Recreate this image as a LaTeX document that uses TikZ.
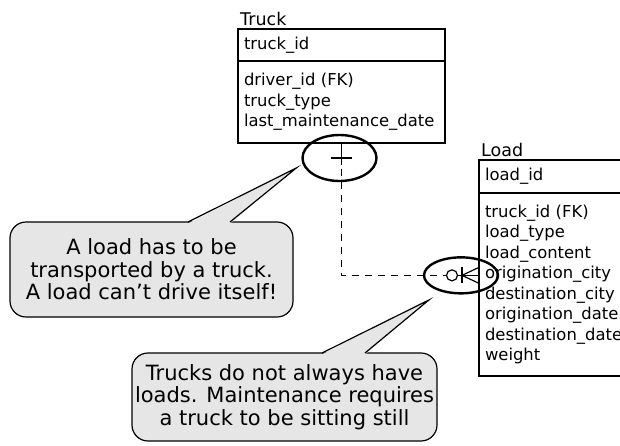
\documentclass[tikz,border=0pt]{standalone}
\usepackage{fontspec}
\setmainfont{DejaVu Sans}
\definecolor{ink}{HTML}{000000}
\definecolor{notefill}{HTML}{E6E6E6}
\usetikzlibrary{calc,positioning,shapes.geometric}
\tikzset{
  tbl/.style={draw=ink,line width=1.2pt,anchor=north west,align=left,
              text width=#1,inner xsep=6pt,inner ysep=0pt,outer sep=0pt,
              font=\fontsize{16.4}{20.5}\selectfont},
  tbltitle/.style={anchor=south west,inner xsep=2pt,inner ysep=3.5pt,
                   font=\fontsize{17.5}{20.5}\selectfont},
  rel/.style={draw=ink,line width=1.2pt,dash pattern=on 7pt off 6pt},
  relend/.style={draw=ink,line width=1.2pt},
  ring/.style={ellipse,draw=ink,line width=2.4pt,inner sep=0pt},
  note/.style={draw=ink,fill=notefill,line width=1.2pt,rounded corners=16pt,
               align=center,inner sep=0pt,outer sep=0pt,
               font=\fontsize{21}{22.5}\selectfont},
  noteline/.style={draw=ink,line width=1.2pt,line join=miter}
}
\begin{document}
\begin{tikzpicture}[x=1pt,y=-1pt]
  \useasboundingbox (0,0) rectangle (620,445);
  \node[tbl=195,minimum height=32pt] (truckkey) at (238,29) {truck\_id};
  \node[tbl=195,minimum height=82pt] (truckattr) at (truckkey.south west)
    {driver\_id (FK)\\truck\_type\\last\_maintenance\_date};
  \node[tbltitle] (trucktitle) at (truckkey.north west) {Truck};

  \node[tbl=150,minimum height=33pt] (loadkey) at (479,160) {load\_id};
  \node[tbl=150,minimum height=183pt] (loadattr) at (loadkey.south west)
    {truck\_id (FK)\\load\_type\\load\_content\\origination\_city\\destination\_city\\origination\_date\\destination\_date\\weight};
  \node[tbltitle] (loadtitle) at (loadkey.north west) {Load};

  \coordinate (ljoin) at ($(loadattr.north west)!0.45!(loadattr.south west)$);
  \draw[rel] (truckattr.south) |- (ljoin);
  \draw[relend] (truckattr.south) -- ++(0,22);
  \draw[relend] ($(truckattr.south)+(-10.5,15)$) -- ++(21,0);
  \draw[relend] ($(ljoin)+(-21.5,0)$) -- (ljoin);
  \draw[relend] ($(ljoin)+(-17,-8)$) -- ++(0,16);
  \draw[relend] ($(ljoin)+(0,-8)$) -- ($(ljoin)+(-17,0)$) -- ($(ljoin)+(0,8)$);
  \draw[relend,fill=white] ($(ljoin)+(-27,0)$) circle[radius=5.5];

  \node[ring,minimum width=74pt,minimum height=46pt] (onering) at ($(truckattr.south)+(-2,15)$) {};
  \node[ring,minimum width=74pt,minimum height=36pt] (manyring) at ($(ljoin)+(-18,0)$) {};

  \node[note,minimum width=283pt,minimum height=95pt] (whynote) at (151.5,269.5)
    {A load has to be\\transported by a truck.\\A load can’t drive itself!};
  \coordinate (whytip) at ($(onering.west)+(-5,10)$);
  \fill[notefill] ($(whynote.north west)+(178,1.5)$) -- (whytip) -- ($(whynote.north west)+(220,1.5)$) -- cycle;
  \draw[noteline] ($(whynote.north west)+(178,0)$) -- (whytip) -- ($(whynote.north west)+(220,0)$);

  \node[note,minimum width=305pt,minimum height=88pt] (whennote) at (284.5,397)
    {Trucks do not always have\\loads. Maintenance requires\\a truck to be sitting still};
  \coordinate (whentip) at ($(manyring.south west)+(-5,11)$);
  \fill[notefill] ($(whennote.north west)+(190,1.5)$) -- (whentip) -- ($(whennote.north west)+(233,1.5)$) -- cycle;
  \draw[noteline] ($(whennote.north west)+(190,0)$) -- (whentip) -- ($(whennote.north west)+(233,0)$);
\end{tikzpicture}
\end{document}
